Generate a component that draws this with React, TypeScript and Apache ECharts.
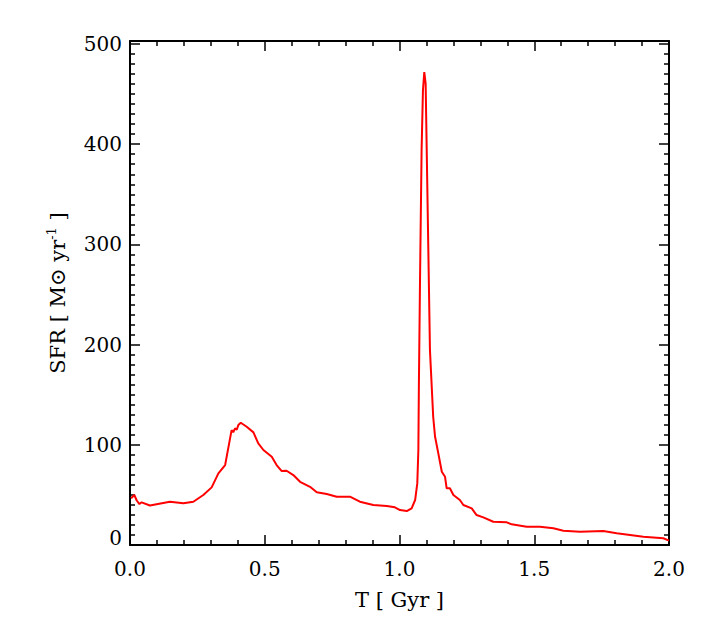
import React, { useEffect, useRef } from "react";
import * as echarts from "echarts";

// Time in Gyr
const timeGyr: number[] = [
  0.004, 0.016, 0.025, 0.035, 0.043, 0.074, 0.148, 0.198, 0.235, 0.272,
  0.303, 0.328, 0.353, 0.361, 0.377, 0.383, 0.390, 0.396, 0.402, 0.411,
  0.433, 0.458, 0.476, 0.495, 0.526, 0.544, 0.563, 0.581, 0.606, 0.631,
  0.668, 0.693, 0.730, 0.767, 0.816, 0.853, 0.903, 0.953, 0.983, 1.002,
  1.027, 1.045, 1.058, 1.066, 1.070, 1.072, 1.076, 1.082, 1.087, 1.092,
  1.097, 1.101, 1.107, 1.113, 1.125, 1.132, 1.144, 1.157, 1.169, 1.175,
  1.187, 1.200, 1.224, 1.237, 1.268, 1.286, 1.311, 1.348, 1.398, 1.416,
  1.472, 1.521, 1.571, 1.608, 1.670, 1.756, 1.806, 1.905, 1.979, 2.0,
];
// Star formation rate in Msun/yr
const sfr: number[] = [
  46.6, 49.9, 44.4, 40.9, 42.6, 39.4, 43.2, 41.6, 43.2, 49.9,
  57.5, 71.5, 79.8, 91.5, 114.7, 112.5, 116.4, 115.0, 119.7, 122.0,
  118.0, 112.4, 101.4, 94.8, 88.1, 79.8, 73.8, 74.1, 69.8, 63.1,
  58.1, 52.6, 50.9, 48.2, 48.2, 43.2, 39.9, 38.9, 37.6, 34.9,
  33.9, 36.6, 44.9, 61.5, 94.8, 161.6, 261.3, 394.0, 453.8, 472.0,
  460.5, 394.0, 294.2, 194.5, 128.0, 108.0, 91.5, 73.1, 68.1, 56.6,
  56.6, 49.9, 44.9, 39.9, 36.6, 29.9, 27.6, 23.2, 22.6, 20.6,
  18.3, 18.3, 16.7, 14.3, 13.3, 14.0, 11.7, 8.3, 6.7, 4.3,
];
const xTicks: number[] = [0, 0.5, 1.0, 1.5, 2.0];
const yTicks: number[] = [0, 100, 200, 300, 400, 500];

const FONT = "DejaVu Serif";

export default function App() {
  const ref = useRef<HTMLDivElement>(null);
  useEffect(() => {
    if (!ref.current) return;
    const chart = echarts.init(ref.current, null, { renderer: "svg" });
    const data = timeGyr.map((t, i) => [t, sfr[i]]);
    const axisCommon = {
      axisLine: { show: true, onZero: false, lineStyle: { color: "#000", width: 2 } },
      axisTick: { show: true, inside: true, length: 10, lineStyle: { color: "#000", width: 1.5 } },
      minorTick: { show: true, length: 5, lineStyle: { color: "#000", width: 1.5 } },
      splitLine: { show: false },
      minorSplitLine: { show: false },
    };
    chart.setOption({
      animation: false,
      backgroundColor: "#fff",
      grid: { left: 130, right: 40, top: 41, bottom: 84, containLabel: false },
      xAxis: [
        {
          type: "value",
          min: xTicks[0],
          max: xTicks[xTicks.length - 1],
          interval: 0.5,
          ...axisCommon,
          minorTick: { ...axisCommon.minorTick, splitNumber: 5 },
          axisLabel: {
            color: "#000",
            fontFamily: FONT,
            fontSize: 20,
            margin: 14,
            formatter: (v: number) => v.toFixed(1),
          },
          name: "T [ Gyr ]",
          nameLocation: "middle",
          nameGap: 44,
          nameTextStyle: { color: "#000", fontFamily: FONT, fontSize: 21 },
        },
        {
          type: "value",
          position: "top",
          min: xTicks[0],
          max: xTicks[xTicks.length - 1],
          interval: 0.5,
          ...axisCommon,
          minorTick: { ...axisCommon.minorTick, splitNumber: 5 },
          axisLabel: { show: false },
        },
      ],
      yAxis: [
        {
          type: "value",
          min: 0,
          max: 503,
          interval: 100,
          ...axisCommon,
          minorTick: { ...axisCommon.minorTick, splitNumber: 10 },
          axisLabel: {
            color: "#000",
            fontFamily: FONT,
            fontSize: 20,
            margin: 8,
            showMaxLabel: false,
            formatter: (v: number) =>
              yTicks.indexOf(v) < 0 ? "" : v === 0 ? "{z|0}" : String(v),
            rich: {
              z: { fontFamily: FONT, fontSize: 20, color: "#000", padding: [0, 0, 14, 0] },
            },
          },
          name: "SFR [ M⊙ yr{sup|-1} ]",
          nameLocation: "middle",
          nameGap: 60,
          nameTextStyle: {
            color: "#000",
            fontFamily: FONT,
            fontSize: 21,
            rich: {
              sup: { fontFamily: FONT, fontSize: 13, color: "#000", padding: [0, 0, 12, 0] },
            },
          },
        },
        {
          type: "value",
          position: "right",
          min: 0,
          max: 503,
          interval: 100,
          ...axisCommon,
          minorTick: { ...axisCommon.minorTick, splitNumber: 10 },
          axisLabel: { show: false },
        },
      ],
      series: [
        {
          type: "line",
          data,
          showSymbol: false,
          symbol: "none",
          smooth: false,
          lineStyle: { color: "#ff0000", width: 2 },
          clip: true,
        },
      ],
    });
    return () => chart.dispose();
  }, []);
  return <div ref={ref} style={{ width: 709, height: 629, margin: -8 }} />;
}
